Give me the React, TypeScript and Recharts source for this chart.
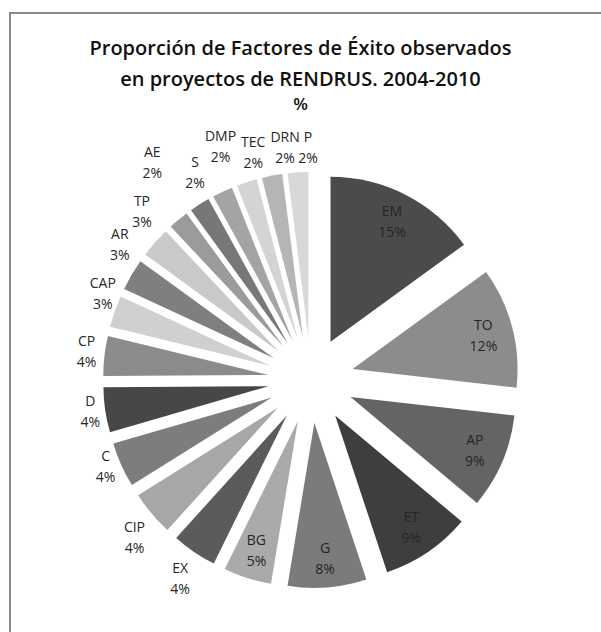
import React from 'react';
import { PieChart, Pie, Cell, Sector } from 'recharts';

// Factores de éxito (clockwise from 12 o'clock), shares
const factors = ['EM', 'TO', 'AP', 'ET', 'G', 'BG', 'EX', 'CIP', 'C', 'D', 'CP', 'CAP', 'AR', 'TP', 'AE', 'S', 'DMP', 'TEC', 'DRN', 'P'];
const shares = [15.0, 11.8, 9.3, 8.8, 7.7, 4.7, 4.4, 4.4, 4.4, 4.4, 3.9, 3.1, 3.1, 3.0, 2.0, 2.0, 2.0, 2.0, 2.0, 2.0];
const grays = [
  '#4b4b4b', '#8c8c8c', '#646464', '#3e3e3e', '#7b7b7b', '#aaaaaa', '#5b5b5b', '#a7a7a7', '#7d7d7d', '#474747',
  '#8b8b8b', '#d0d0d0', '#7f7f7f', '#c9c9c9', '#9b9b9b', '#777777', '#a4a4a4', '#d4d4d4', '#b5b5b5', '#d8d8d8',
];

const data = factors.map((name, i) => ({ name, value: shares[i] }));

const RAD = Math.PI / 180;
const EXPLODE = 43;
const labelFont = '"Open Sans", sans-serif';

// small shifts for crowded outside labels (excel "best fit" moves them)
const nudge: { [k: string]: [number, number] } = {
  EX: [-5, 4],
  CIP: [-1, 7],
  C: [-1, -10],
  D: [1, -3],
  CP: [-2, -2],
  CAP: [8, -10],
  AR: [2, -18],
  TP: [-1, -14],
  AE: [-16, -38],
  S: [4, -10],
  DMP: [7, -22],
  TEC: [13, -5],
  DRN: [17, -3],
  P: [11, 1],
};

function ExplodedSlice(props: any) {
  const { cx, cy, midAngle, innerRadius, outerRadius, startAngle, endAngle, index, name, percent } = props;
  const ux = Math.cos(-midAngle * RAD);
  const uy = Math.sin(-midAngle * RAD);
  const ox = cx + EXPLODE * ux;
  const oy = cy + EXPLODE * uy;
  const pct = Math.round(percent * 100);
  const inside = percent >= 0.046;
  let lx: number;
  let ly: number;
  if (inside) {
    lx = ox + outerRadius * 0.82 * ux;
    ly = oy + outerRadius * 0.82 * uy;
  } else {
    const hw = Math.max(name.length * 5, 10);
    const n = nudge[name] || [0, 0];
    lx = ox + (outerRadius + 6) * ux + ux * hw + n[0];
    ly = oy + (outerRadius + 6) * uy + uy * 20 + n[1];
  }
  return (
    <g>
      <Sector
        cx={ox}
        cy={oy}
        innerRadius={innerRadius}
        outerRadius={outerRadius}
        startAngle={startAngle}
        endAngle={endAngle}
        fill={grays[index]}
        stroke="none"
      />
      <text x={lx} y={ly} textAnchor="middle" fontSize={14} fill="#262626" fontFamily={labelFont}>
        <tspan x={lx} dy={-5}>{name}</tspan>
        <tspan x={lx} dy={21}>{pct}%</tspan>
      </text>
    </g>
  );
}

export default function App() {
  return (
    <div style={{ position: 'absolute', left: 0, top: 0, width: 601, height: 632, background: '#fff', overflow: 'hidden' }}>
      <div
        style={{
          position: 'absolute',
          left: 9,
          top: 12,
          right: 0,
          bottom: 0,
          borderTop: '2px solid #898989',
          borderLeft: '2px solid #898989',
        }}
      />
      <div
        style={{
          position: 'absolute',
          left: 0,
          width: 601,
          top: 32,
          textAlign: 'center',
          fontFamily: '"Open Sans", sans-serif',
          fontWeight: 600,
          fontSize: 20,
          lineHeight: '31px',
          color: '#111',
        }}
      >
        <div>Proporción de Factores de Éxito observados</div>
        <div>en proyectos de RENDRUS. 2004-2010</div>
        <div style={{ fontSize: 17, lineHeight: '20px' }}>%</div>
      </div>
      <div style={{ position: 'absolute', left: 0, top: 0 }}>
        <PieChart width={601} height={632} margin={{ top: 0, right: 0, bottom: 0, left: 0 }}>
          <Pie
            data={data}
            dataKey="value"
            nameKey="name"
            cx={311}
            cy={380}
            innerRadius={0}
            outerRadius={165}
            startAngle={90}
            endAngle={-270}
            stroke="none"
            label={ExplodedSlice}
            labelLine={false}
            isAnimationActive={false}
          >
            {data.map((d) => (
              <Cell key={d.name} fill="none" />
            ))}
          </Pie>
        </PieChart>
      </div>
    </div>
  );
}
